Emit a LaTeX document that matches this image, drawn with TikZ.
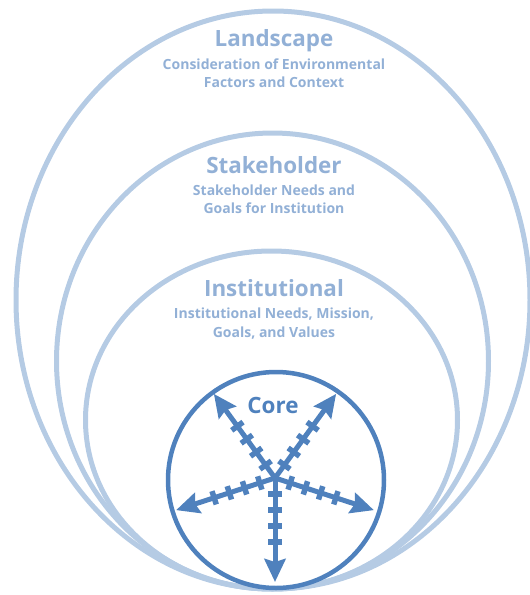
\documentclass[tikz,border=0pt]{standalone}
\usepackage{fontspec}
\setmainfont{Open Sans}
\usetikzlibrary{arrows.meta,calc}
\definecolor{lightring}{RGB}{181,203,228}
\definecolor{lighttext}{RGB}{146,176,214}
\definecolor{coreblue}{RGB}{79,129,189}
\begin{document}
\begin{tikzpicture}[x=1pt,y=-1pt,
  ring/.style={draw=lightring,line width=5pt},
  ttl/.style={anchor=base,text=lighttext,font=\bfseries\fontsize{22.4}{27}\selectfont,inner sep=0pt},
  sub/.style={anchor=base,text=lighttext,font=\bfseries\fontsize{14}{18}\selectfont,inner sep=0pt},
  spoke/.style={draw=coreblue,line width=5pt,-{Stealth[length=23pt,width=21pt,inset=3pt]}},
  tie/.style={draw=coreblue,line width=5.5pt},
  corering/.style={draw=coreblue,line width=4.5pt}]
\useasboundingbox (0,0) rectangle (530,595);
% rings
\draw[ring] (273,300) ellipse [x radius=257,y radius=289];
\draw[ring] (272.5,361) ellipse [x radius=216,y radius=228];
\draw[ring] (271.5,420) ellipse [x radius=186,y radius=169];
\draw[corering] (276,480) circle [radius=108];
% texts
\node[ttl] (land) at (274,46) {Landscape};
\node[sub] (land1) at (274,69) {Consideration of Environmental};
\node[sub] (land2) at (274,87) {Factors and Context};
\node[ttl] (stake) at (274,173) {Stakeholder};
\node[sub] (stake1) at (274,195) {Stakeholder Needs and};
\node[sub] (stake2) at (274,213) {Goals for Institution};
\node[ttl] (inst) at (274,296) {Institutional};
\node[sub] (inst1) at (274,318) {Institutional Needs, Mission,};
\node[sub] (inst2) at (274,337) {Goals, and Values};
\node[anchor=base,text=coreblue,font=\bfseries\fontsize{22.4}{27}\selectfont,inner sep=0pt] (core) at (273,413) {Core};
% spokes
\coordinate (hub) at (275,478);
\foreach \a/\n in {-126/ul,-54/ur,162/l,18/r,90/d}{
  \coordinate (tip\n) at ($(hub)+(\a:104)$);
  \foreach \d in {16,32,48,64}{
    \draw[tie] ($(hub)+(\a:\d)+(\a+90:7)$) -- ($(hub)+(\a:\d)+(\a-90:7)$);
  }
  \draw[spoke] (hub) -- (tip\n);
}
\end{tikzpicture}
\end{document}
